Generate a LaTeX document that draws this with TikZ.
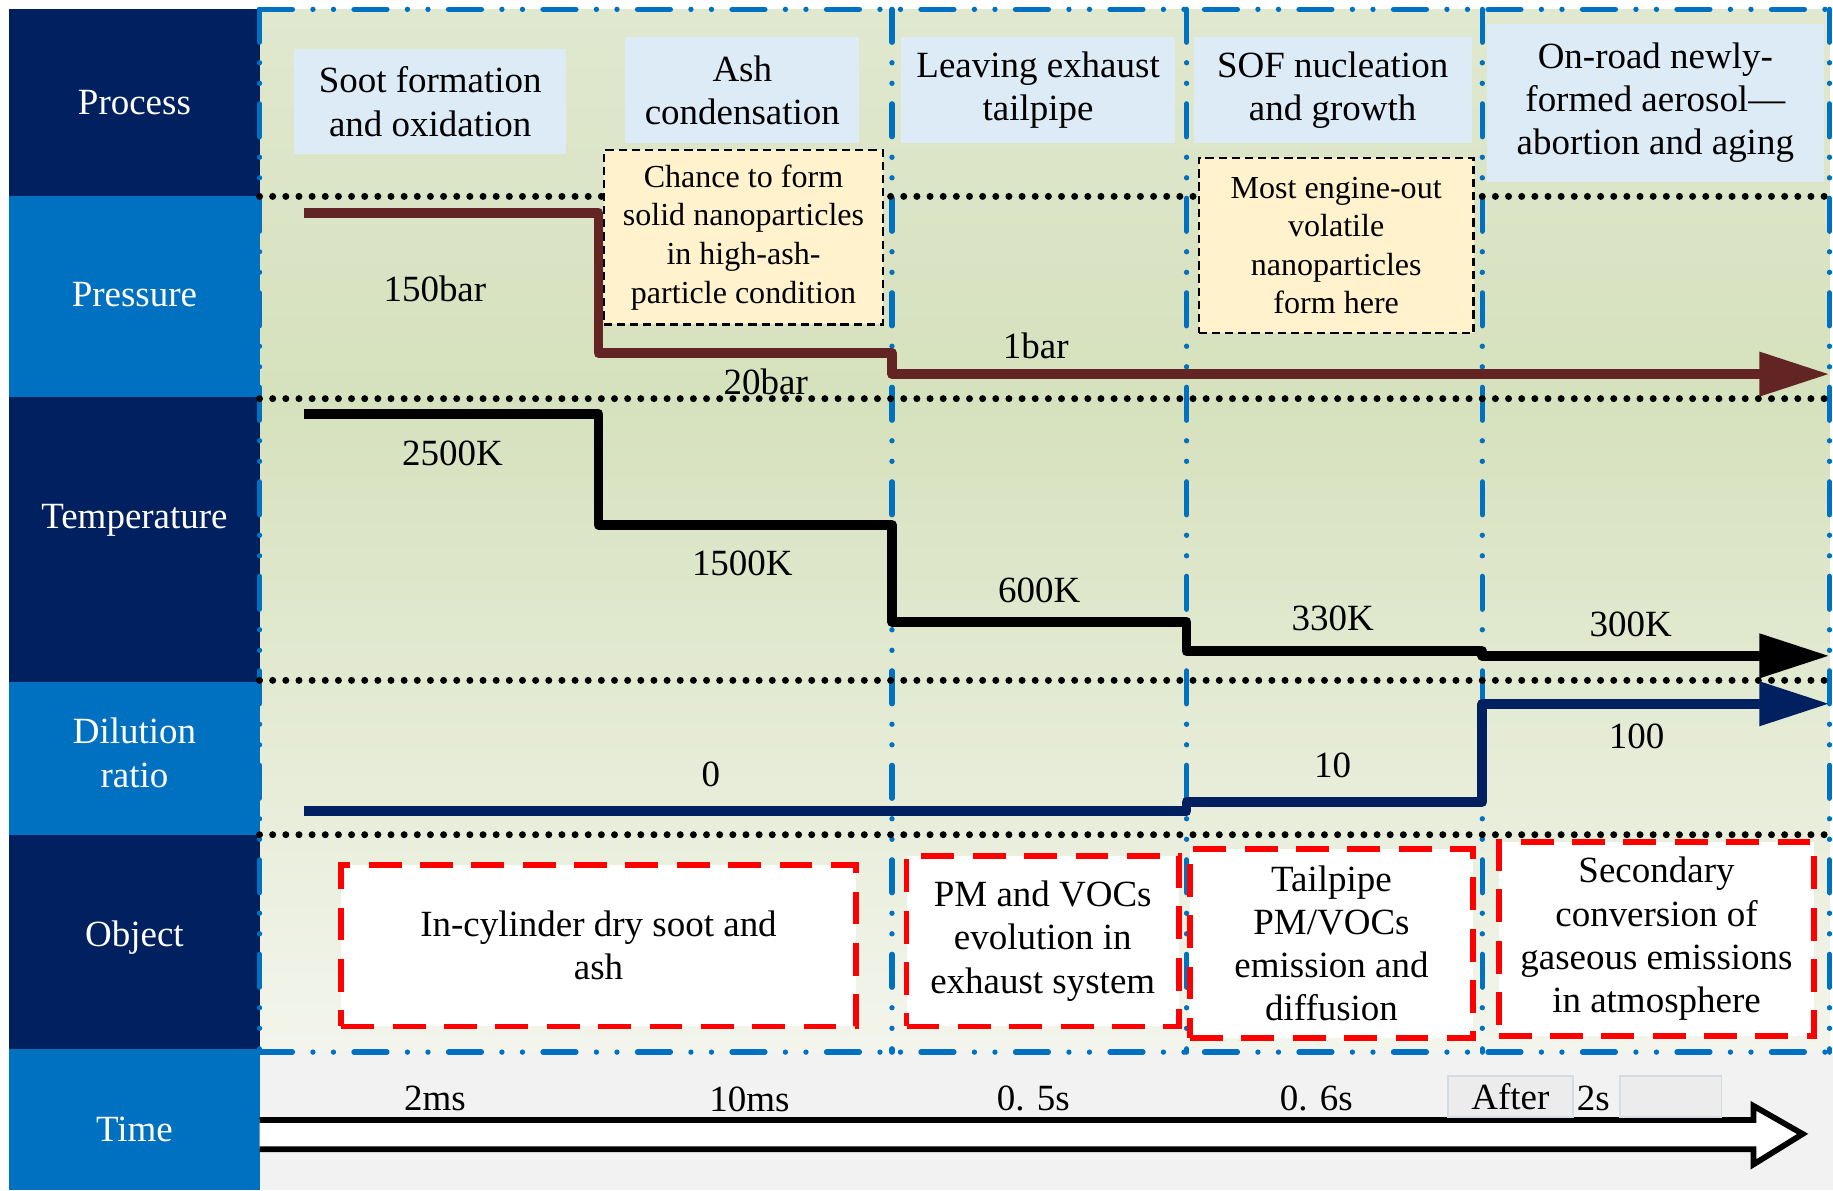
\documentclass[tikz,border=0pt]{standalone}
\usepackage{fontspec}
\setmainfont{Liberation Serif}
\usetikzlibrary{arrows.meta}

\definecolor{navy}{RGB}{0,32,96}
\definecolor{rowblue}{RGB}{0,112,192}
\definecolor{procblue}{RGB}{221,235,247}
\definecolor{noteyellow}{RGB}{255,242,204}
\definecolor{pressbrown}{RGB}{99,37,35}
\definecolor{timegrey}{RGB}{242,242,242}
\definecolor{aftergrey}{RGB}{236,236,236}
\definecolor{afterline}{RGB}{214,220,229}
\definecolor{greentop}{RGB}{224,232,207}
\definecolor{greenmid}{RGB}{214,225,189}
\definecolor{greenlow}{RGB}{243,245,236}

\newcommand{\figfont}{\fontsize{9}{10.5}\selectfont}
\newcommand{\notefont}{\fontsize{7.8}{9.4}\selectfont}

\begin{document}
\begin{tikzpicture}[x=1cm, y=-1cm,
    head/.style={text=white, align=center, font=\figfont},
    procbox/.style={fill=procblue, align=center, inner sep=0pt, font=\figfont},
    notebox/.style={fill=noteyellow, draw=black, line width=0.6pt, dash pattern=on 2pt off 1.2pt, align=center, inner sep=0pt, font=\notefont},
    objbox/.style={fill=white, draw=red, line width=1.4pt, dash pattern=on 8pt off 4.5pt, align=center, inner sep=0pt, font=\figfont},
    reading/.style={font=\figfont},
    stageframe/.style={draw=rowblue, line width=1.3pt, line cap=round, dash pattern=on 8pt off 5pt on 0pt off 5pt on 0pt off 5pt},
    rowsep/.style={draw=black, line width=1.7pt, line cap=round, dash pattern=on 0pt off 3.2pt},
    stepline/.style={line width=2.4pt, line join=round, -{Triangle[length=6mm,width=3.6mm]}}]

        \useasboundingbox (00.00,00.00) rectangle (15.68,10.18);

        % Background
        \fill [top color=greentop, bottom color=greenmid] (02.22,00.08) rectangle (15.65,03.41);
        \fill [top color=greenmid, bottom color=greenlow] (02.22,03.41) rectangle (15.65,09.00);
        \fill [timegrey] (02.22,09.00) rectangle (15.68,10.18);

        % Process
        \fill [navy] (00.08,00.08) rectangle (02.22,01.68);
        \node (process) at (01.15,00.88) [head] {Process};

        % Pressure
        \fill [rowblue] (00.08,01.68) rectangle (02.22,03.40);
        \node (pressure) at (01.15,02.52) [head] {Pressure};

        % Temperature
        \fill [navy] (00.08,03.40) rectangle (02.22,05.83);
        \node (temperature) at (01.15,04.45) [head] {Temperature};

        % Dilution ratio
        \fill [rowblue] (00.08,05.83) rectangle (02.22,07.14);
        \node (dilution) at (01.15,06.44) [head] {Dilution\\ratio};

        % Object
        \fill [navy] (00.08,07.14) rectangle (02.22,08.97);
        \node (object) at (01.15,08.02) [head] {Object};

        % Time
        \fill [rowblue] (00.08,08.97) rectangle (02.22,10.18);
        \node (time) at (01.15,09.66) [head] {Time};

        % Stage frame
        \draw [stageframe] (02.22,00.08) -- (15.65,00.08);
        \draw [stageframe] (02.22,09.00) -- (15.65,09.00);
        \draw [stageframe] (02.22,00.08) -- (02.22,09.00);
        \draw [stageframe] (07.63,00.08) -- (07.63,09.00);
        \draw [stageframe] (10.15,00.08) -- (10.15,09.00);
        \draw [stageframe] (12.68,00.08) -- (12.68,09.00);
        \draw [stageframe] (15.65,00.08) -- (15.65,09.00);

        % Row separators
        \draw [rowsep] (02.22,01.68) -- (15.68,01.68);
        \draw [rowsep] (02.22,03.41) -- (15.68,03.41);
        \draw [rowsep] (02.22,05.82) -- (15.68,05.82);
        \draw [rowsep] (02.22,07.14) -- (15.68,07.14);

        % Process boxes
        \node (soot) at (03.68,00.87) [procbox, minimum width=2.33cm, minimum height=0.90cm] {Soot formation\\and oxidation};
        \node (ash) at (06.35,00.77) [procbox, minimum width=2.00cm, minimum height=0.91cm] {Ash\\condensation};
        \node (leaving) at (08.88,00.77) [procbox, minimum width=2.35cm, minimum height=0.91cm] {Leaving exhaust\\tailpipe};
        \node (sof) at (11.40,00.77) [procbox, minimum width=2.38cm, minimum height=0.91cm] {SOF nucleation\\and growth};
        \node (onroad) at (14.16,00.88) [procbox, minimum width=2.88cm, minimum height=1.35cm] {On-road newly-\\formed aerosol---\\abortion and aging};

        % Notes
        \node (chance) at (06.36,02.03) [notebox, minimum width=2.39cm, minimum height=1.49cm] {Chance to form\\solid nanoparticles\\in high-ash-\\particle condition};
        \node (volatile) at (11.43,02.10) [notebox, minimum width=2.35cm, minimum height=1.50cm] {Most engine-out\\volatile\\nanoparticles\\form here};

        % Pressure line
        \coordinate (p0) at (02.60,01.82);
        \coordinate (p1) at (05.12,03.02);
        \coordinate (p2) at (07.63,03.20);
        \coordinate (pend) at (15.65,03.20);
        \draw [stepline, pressbrown] (p0) -| (p1) -| (p2) -- (pend);
        \node (bar150) at (03.72,02.47) [reading] {150bar};
        \node (bar20) at (06.55,03.27) [reading] {20bar};
        \node (bar1) at (08.86,02.96) [reading] {1bar};

        % Temperature line
        \coordinate (t0) at (02.60,03.54);
        \coordinate (t1) at (05.12,04.49);
        \coordinate (t2) at (07.63,05.32);
        \coordinate (t3) at (10.15,05.57);
        \coordinate (t4) at (12.68,05.61);
        \coordinate (tend) at (15.65,05.61);
        \draw [stepline, black] (t0) -| (t1) -| (t2) -| (t3) -| (t4) -- (tend);
        \node (k2500) at (03.87,03.88) [reading] {2500K};
        \node (k1500) at (06.35,04.82) [reading] {1500K};
        \node (k600) at (08.89,05.05) [reading] {600K};
        \node (k330) at (11.40,05.29) [reading] {330K};
        \node (k300) at (13.95,05.34) [reading] {300K};

        % Dilution line
        \coordinate (d0) at (02.60,06.94);
        \coordinate (d1) at (10.15,06.86);
        \coordinate (d2) at (12.68,06.02);
        \coordinate (dend) at (15.65,06.02);
        \draw [stepline, navy] (d0) -| (d1) -| (d2) -- (dend);
        \node (dr0) at (06.08,06.62) [reading] {0};
        \node (dr10) at (11.40,06.55) [reading] {10};
        \node (dr100) at (14.00,06.30) [reading] {100};

        % Object boxes
        \node (incyl) at (05.12,08.09) [objbox, minimum width=4.40cm, minimum height=1.38cm] {In-cylinder dry soot and\\ash};
        \node (pmvoc) at (08.92,08.05) [objbox, minimum width=2.33cm, minimum height=1.46cm] {PM and VOCs\\evolution in\\exhaust system};
        \node (tailpipe) at (11.39,08.07) [objbox, minimum width=2.42cm, minimum height=1.62cm] {Tailpipe\\PM/VOCs\\emission and\\diffusion};
        \node (secondary) at (14.17,08.03) [objbox, minimum width=2.70cm, minimum height=1.66cm] {Secondary\\conversion of\\gaseous emissions\\in atmosphere};

        % Time arrow
        \draw [line width=1.4pt, fill=white] (02.22,09.58) -- (15.00,09.58) -- (15.00,09.46) -- (15.42,09.70) -- (15.00,09.96) -- (15.00,09.83) -- (02.22,09.83);
        \node (ms2) at (03.72,09.40) [reading] {2ms};
        \node (ms10) at (06.41,09.40) [reading] {10ms};
        \node (s05) at (08.84,09.40) [reading] {0. 5s};
        \node (s06) at (11.26,09.40) [reading] {0. 6s};
        \node (after) at (12.92,09.38) [fill=aftergrey, draw=afterline, minimum width=1.07cm, minimum height=0.35cm, inner sep=0pt, font=\figfont] {After};
        \node (s2) at (13.63,09.40) [reading] {2s};
        \node (blank) at (14.29,09.38) [fill=aftergrey, draw=afterline, minimum width=0.87cm, minimum height=0.35cm, inner sep=0pt] {};

    \end{tikzpicture}
\end{document}
